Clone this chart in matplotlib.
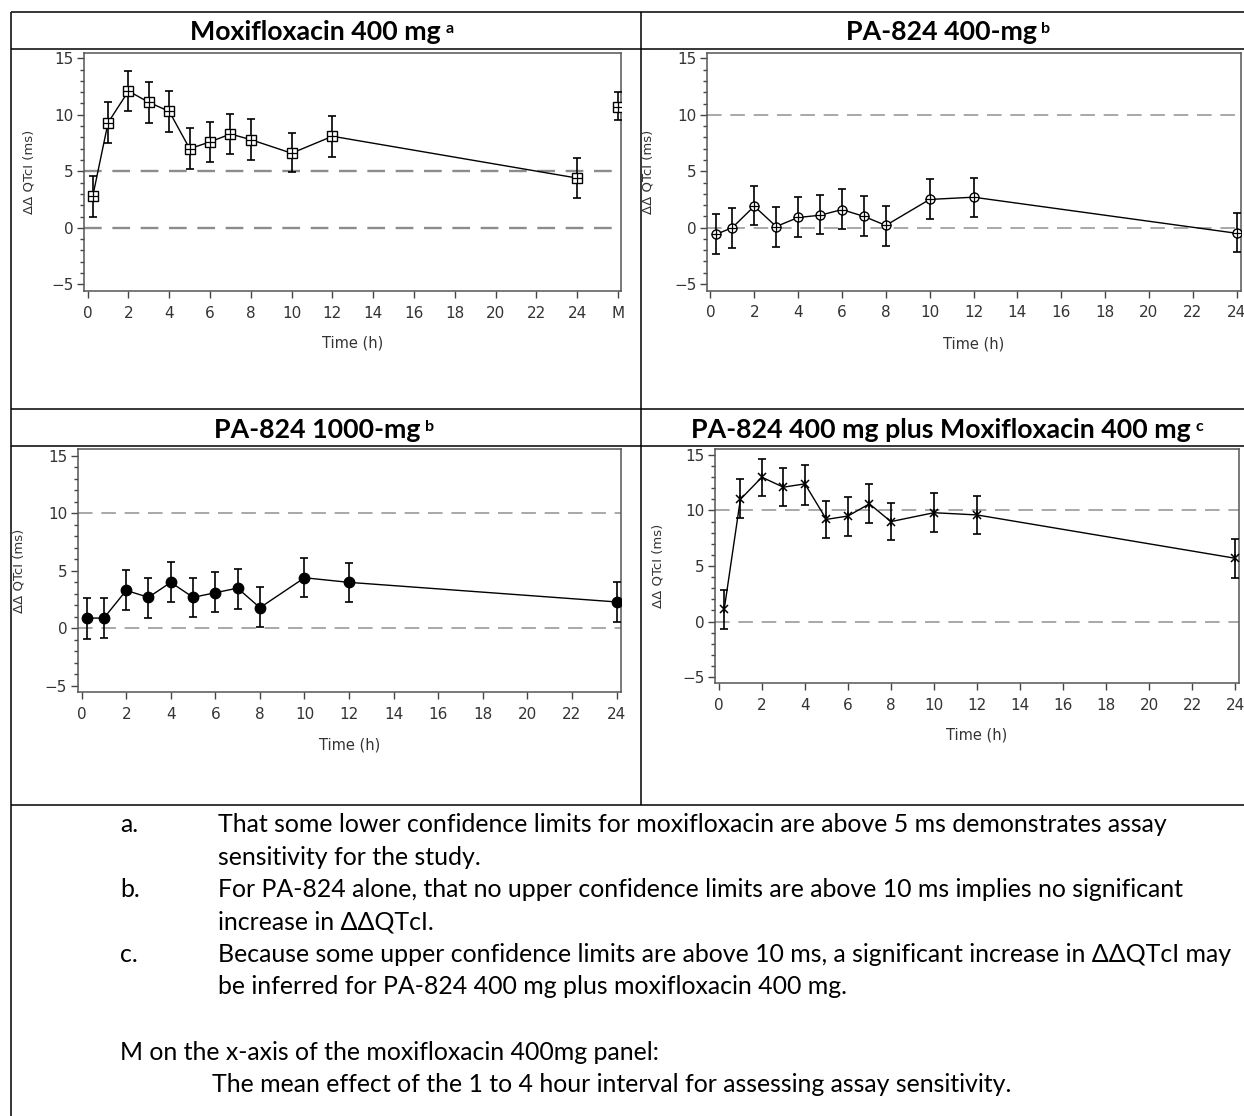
import matplotlib
matplotlib.use("Agg")
import numpy as np
import matplotlib.pyplot as plt
from matplotlib.ticker import MultipleLocator, FixedLocator

# ---------------- data ----------------
time_h = [0.25, 1, 2, 3, 4, 5, 6, 7, 8, 10, 12, 24]

moxi_mean = [2.8, 9.3, 12.1, 11.1, 10.3, 7.0, 7.6, 8.3, 7.8, 6.6, 8.1, 4.4]
moxi_lo = [1.0, 7.5, 10.3, 9.3, 8.5, 5.2, 5.8, 6.5, 6.0, 4.9, 6.3, 2.6]
moxi_hi = [4.6, 11.1, 13.9, 12.9, 12.1, 8.8, 9.4, 10.1, 9.6, 8.4, 9.9, 6.2]
moxi_m_mean, moxi_m_lo, moxi_m_hi = 10.7, 9.5, 12.0

pa400_mean = [-0.6, 0.0, 1.9, 0.1, 0.9, 1.1, 1.6, 1.0, 0.2, 2.5, 2.7, -0.5]
pa400_lo = [-2.3, -1.8, 0.2, -1.7, -0.8, -0.6, -0.1, -0.7, -1.6, 0.8, 0.9, -2.2]
pa400_hi = [1.2, 1.7, 3.7, 1.8, 2.7, 2.9, 3.4, 2.8, 1.9, 4.3, 4.4, 1.3]

pa1000_mean = [0.9, 0.9, 3.3, 2.7, 4.0, 2.7, 3.1, 3.5, 1.8, 4.4, 4.0, 2.3]
pa1000_lo = [-0.9, -0.8, 1.6, 0.9, 2.3, 1.0, 1.4, 1.7, 0.1, 2.7, 2.3, 0.6]
pa1000_hi = [2.6, 2.6, 5.1, 4.4, 5.8, 4.4, 4.9, 5.2, 3.6, 6.1, 5.7, 4.0]

combo_mean = [1.1, 11.0, 13.0, 12.1, 12.4, 9.2, 9.5, 10.6, 9.0, 9.8, 9.6, 5.7]
combo_lo = [-0.7, 9.3, 11.3, 10.4, 10.5, 7.5, 7.7, 8.9, 7.3, 8.1, 7.9, 3.9]
combo_hi = [2.8, 12.8, 14.6, 13.8, 14.1, 10.9, 11.2, 12.4, 10.7, 11.6, 11.3, 7.4]

x_ticks = list(range(0, 25, 2))
x_labels = [str(t) for t in x_ticks]
m_pos, m_label = 26, "M"
y_ticks = [-5, 0, 5, 10, 15]

titles = ["Moxifloxacin 400 mg", "PA-824 400-mg",
          "PA-824 1000-mg", "PA-824 400 mg plus Moxifloxacin 400 mg"]
title_notes = ["a", "b", "b", "c"]
y_label = "ΔΔ QTcI (ms)"
x_label = "Time (h)"

notes = [
    ("a.", ["That some lower confidence limits for moxifloxacin are above 5 ms demonstrates assay",
            "sensitivity for the study."]),
    ("b.", ["For PA-824 alone, that no upper confidence limits are above 10 ms implies no significant",
            "increase in ΔΔQTcI."]),
    ("c.", ["Because some upper confidence limits are above 10 ms, a significant increase in ΔΔQTcI may",
            "be inferred for PA-824 400 mg plus moxifloxacin 400 mg."]),
]
m_note_head = "M on the x-axis of the moxifloxacin 400mg panel:"
m_note_body = "The mean effect of the 1 to 4 hour interval for assessing assay sensitivity."

# ---------------- figure ----------------
W, H = 1244, 1116
plt.rcParams["font.family"] = ["DejaVu Sans"]
fig = plt.figure(figsize=(W / 100, H / 100), dpi=100)
fig.patch.set_facecolor("white")

# full-figure canvas in pixel units for the table grid and text
bg = fig.add_axes([0, 0, 1, 1])
bg.set_xlim(0, W)
bg.set_ylim(H, 0)
bg.axis("off")

line_kw = dict(color="black", lw=1.1, solid_capstyle="butt")
for y in (11.5, 48.5, 409, 446, 804.5):
    bg.plot([10.5, W], [y, y], **line_kw)
bg.plot([10.5, 10.5], [11.5, H], **line_kw)
bg.plot([641, 641], [11.5, 804.5], **line_kw)

renderer = fig.canvas.get_renderer()


def text_width(s, size, **kw):
    t = bg.text(0, 0, s, fontsize=size, **kw)
    w = t.get_window_extent(renderer).width
    t.remove()
    return w


title_font = dict(family=["Lato", "DejaVu Sans"], weight="bold")
title_size = 16 * 251 / text_width(titles[0], 16, **title_font)
title_pos = [(315.5, 40), (941, 40), (317, 438), (941, 438)]
for s, note, (cx, by) in zip(titles, title_notes, title_pos):
    t = bg.text(cx, by, s, ha="center", va="baseline", fontsize=title_size, **title_font)
    bb = t.get_window_extent(renderer)
    bg.text(bb.x1 + 5, by - 7, note, ha="left", va="baseline",
            fontsize=title_size * 0.6, **title_font)

note_font = dict(family=["Lato", "DejaVu Sans"])
note_size = 16 * 954 / text_width(notes[0][1][0], 16, **note_font)
y = 825
for tag, lines in notes:
    bg.text(120, y, tag, ha="left", va="center", fontsize=note_size, **note_font)
    for ln in lines:
        bg.text(218, y, ln, ha="left", va="center", fontsize=note_size, **note_font)
        y += 32.3
bg.text(120, 1053, m_note_head, ha="left", va="center", fontsize=note_size, **note_font)
bg.text(212, 1085, m_note_body, ha="left", va="center", fontsize=note_size, **note_font)


# ---------------- panels ----------------
def make_panel(l, r, t, b, xlim, ylim, ylab_x, xlab_y):
    ax = fig.add_axes([l / W, 1 - b / H, (r - l) / W, (b - t) / H])
    ax.set_xlim(*xlim)
    ax.set_ylim(*ylim)
    for sp in ax.spines.values():
        sp.set_color("#555555")
        sp.set_linewidth(1.1)
    ax.yaxis.set_major_locator(FixedLocator(y_ticks))
    ax.yaxis.set_minor_locator(MultipleLocator(1))
    ax.tick_params(axis="both", which="major", direction="out", length=5, width=1,
                   color="#444444", labelsize=11, labelcolor="#333333")
    ax.tick_params(axis="y", which="major", pad=2.5)
    ax.tick_params(axis="x", which="major", pad=5.5)
    ax.tick_params(axis="y", which="minor", direction="out", length=3, width=1, color="#444444")
    ax.set_ylabel(y_label, fontsize=9.5, color="#333333")
    ax.yaxis.set_label_coords((ylab_x - l) / (r - l), 0.5)
    ax.set_xlabel(x_label, fontsize=10.5, color="#333333")
    ax.xaxis.set_label_coords(0.5, (b - xlab_y) / (b - t))
    ax.xaxis.label.set_va("center")
    ax.yaxis.label.set_va("center")
    return ax


def ref_lines(ax, levels, color, lw):
    for v in levels:
        ax.axhline(v, color=color, lw=lw, dashes=(7.5, 4.5), zorder=1)


def series(ax, x, mean, lo, hi, connect=True):
    mean = np.asarray(mean, float)
    err = [mean - np.asarray(lo, float), np.asarray(hi, float) - mean]
    ax.errorbar(x, mean, yerr=err, fmt="none", ecolor="black", elinewidth=1.2,
                capsize=3, capthick=1.2, zorder=3)
    if connect:
        ax.plot(x, mean, "-", color="black", lw=1.0, zorder=2)


# Moxifloxacin 400 mg
ax1 = make_panel(84, 621, 52.5, 291, (-0.18, 26.15), (-5.59, 15.51), 29, 343)
ax1.xaxis.set_major_locator(FixedLocator(x_ticks + [m_pos]))
ax1.set_xticklabels(x_labels + [m_label])
ref_lines(ax1, [0, 5], "#8c8c8c", 1.7)
series(ax1, time_h, moxi_mean, moxi_lo, moxi_hi)
series(ax1, [m_pos], [moxi_m_mean], [moxi_m_lo], [moxi_m_hi], connect=False)
mx = time_h + [m_pos]
my = moxi_mean + [moxi_m_mean]
ax1.plot(mx, my, "s", ms=6.5, mfc="white", mec="black", mew=1.0, ls="none", zorder=4)
ax1.plot(mx, my, "+", ms=6.5, mec="black", mew=0.9, ls="none", zorder=5)

# PA-824 400 mg
ax2 = make_panel(707, 1241, 52.7, 290.7, (-0.155, 24.2), (-5.59, 15.51), 648, 344)
ax2.xaxis.set_major_locator(FixedLocator(x_ticks))
ax2.set_xticklabels(x_labels)
ref_lines(ax2, [0, 10], "#a8a8a8", 1.4)
series(ax2, time_h, pa400_mean, pa400_lo, pa400_hi)
ax2.plot(time_h, pa400_mean, "o", ms=6.5, mfc="white", mec="black", mew=1.0, ls="none", zorder=4)
ax2.plot(time_h, pa400_mean, "+", ms=6.5, mec="black", mew=0.9, ls="none", zorder=5)

# PA-824 1000 mg
ax3 = make_panel(77.6, 621, 449, 692, (-0.18, 24.2), (-5.52, 15.58), 19, 745)
ax3.xaxis.set_major_locator(FixedLocator(x_ticks))
ax3.set_xticklabels(x_labels)
ref_lines(ax3, [0, 10], "#a8a8a8", 1.4)
series(ax3, time_h, pa1000_mean, pa1000_lo, pa1000_hi)
ax3.plot(time_h, pa1000_mean, "o", ms=7.5, mfc="black", mec="black", ls="none", zorder=4)

# PA-824 400 mg plus Moxifloxacin 400 mg
ax4 = make_panel(715.4, 1238.5, 449, 683, (-0.16, 24.16), (-5.54, 15.54), 658, 735)
ax4.xaxis.set_major_locator(FixedLocator(x_ticks))
ax4.set_xticklabels(x_labels)
ref_lines(ax4, [0, 10], "#a8a8a8", 1.4)
series(ax4, time_h, combo_mean, combo_lo, combo_hi)
ax4.plot(time_h, combo_mean, "x", ms=5.5, mec="black", mew=1.1, ls="none", zorder=4)
ax4.plot(time_h, combo_mean, "|", ms=6, mec="black", mew=1.1, ls="none", zorder=4)

fig.savefig("out.png", dpi=100, facecolor="white")
